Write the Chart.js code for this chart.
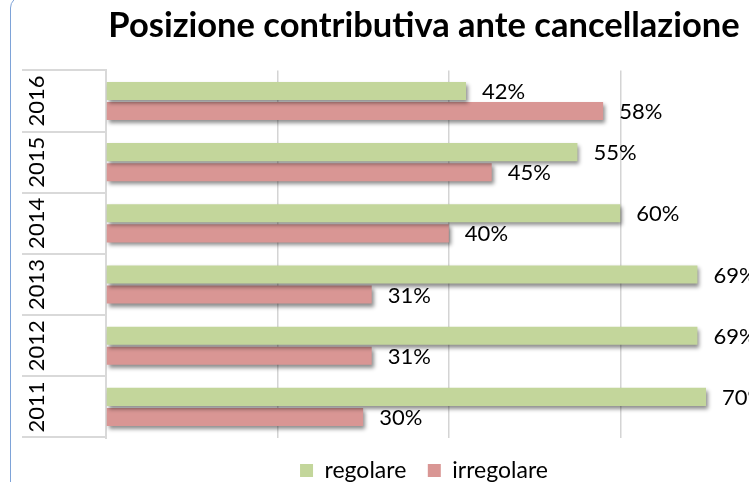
<!DOCTYPE html>
<html>
<head>
<meta charset="utf-8">
<script src="https://cdn.jsdelivr.net/npm/chart.js@4.4.1/dist/chart.umd.min.js"></script>
<style>
    html, body { margin: 0; padding: 0; background: #fff; overflow: hidden; }
    body { width: 749px; height: 482px; position: relative; }
    #wrap { position: absolute; left: 0; top: 0; width: 826px; height: 492px; }
    #frame {
        position: absolute; left: 10px; top: -4px; width: 860px; height: 520px;
        border: 1.5px solid #7ea3d8; border-radius: 12px; pointer-events: none;
    }
</style>
</head>
<body>
<div id="wrap"><canvas id="posChart"></canvas></div>
<div id="frame"></div>
<script>
// data
const years = ['2016', '2015', '2014', '2013', '2012', '2011'];
const regolare = [42, 55, 60, 69, 69, 70];
const irregolare = [58, 45, 40, 31, 31, 30];
const xTicks = [0, 20, 40, 60, 80];

const FONT = 'Lato, "Open Sans", sans-serif';

// drop shadow under bars + value labels at bar ends
const barExtras = {
    id: 'barExtras',
    beforeDatasetsDraw(chart) {
        const ctx = chart.ctx;
        ctx.save();
        ctx.shadowColor = 'rgba(0,0,0,0.45)';
        ctx.shadowBlur = 4;
        ctx.shadowOffsetX = 2;
        ctx.shadowOffsetY = 3;
    },
    afterDatasetsDraw(chart) {
        const ctx = chart.ctx;
        ctx.restore();
        ctx.save();
        ctx.font = '22px ' + FONT;
        ctx.fillStyle = '#000';
        ctx.textAlign = 'left';
        ctx.textBaseline = 'middle';
        chart.data.datasets.forEach(function(ds, i) {
            chart.getDatasetMeta(i).data.forEach(function(bar, j) {
                ctx.fillText(ds.data[j] + '%', bar.x + 16, bar.y + 1);
            });
        });
        ctx.restore();
    }
};

const ctx = document.getElementById('posChart').getContext('2d');
const posChart = new Chart(ctx, {
    type: 'bar',
    data: {
        labels: years,
        datasets: [{
            label: 'regolare',
            data: regolare,
            backgroundColor: '#c3d69b',
            borderWidth: 0
        },
        {
            label: 'irregolare',
            data: irregolare,
            backgroundColor: '#d99694',
            borderWidth: 0
        }]
    },
    options: {
        indexAxis: 'y',
        responsive: true,
        maintainAspectRatio: false,
        animation: false,
        categoryPercentage: 0.656,
        barPercentage: 0.9,
        layout: { padding: { left: 22, right: 0, top: 0, bottom: 0 } },
        scales: {
            x: {
                min: 0,
                max: 84,   // plot runs a little past the 80% line, off the picture
                afterBuildTicks: function(scale) {
                    scale.ticks = xTicks.map(v => ({ value: v }));
                },
                ticks: { display: false },
                grid: { color: '#d4d4d4', lineWidth: 1.5, drawTicks: false },
                border: { display: false }
            },
            y: {
                afterFit: function(scale) { scale.width = 84; },
                grid: {
                    drawOnChartArea: false,
                    offset: true,
                    tickLength: 84,
                    color: '#d9d9d9',
                    lineWidth: 2
                },
                border: { display: true, color: '#d9d9d9', width: 2 },
                ticks: {
                    minRotation: 90,
                    maxRotation: 90,
                    crossAlign: 'center',
                    padding: -40,
                    color: '#000',
                    font: { family: FONT, size: 22 }
                }
            }
        },
        plugins: {
            title: {
                display: true,
                text: 'Posizione contributiva ante cancellazione',
                color: '#000',
                font: { family: FONT, size: 34.5, weight: 'bold' },
                padding: { top: 5, bottom: 24 }
            },
            legend: {
                position: 'bottom',
                labels: {
                    color: '#000',
                    font: { family: FONT, size: 23 },
                    boxWidth: 13,
                    boxHeight: 13,
                    padding: 21.5
                }
            },
            tooltip: { enabled: false }
        }
    },
    plugins: [barExtras]
});
</script>
</body>
</html>
